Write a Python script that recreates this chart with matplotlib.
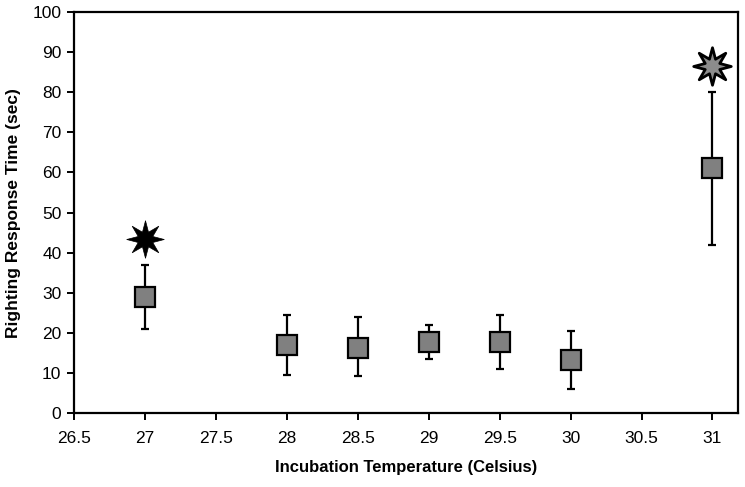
import matplotlib.pyplot as plt
import numpy as np
from matplotlib.path import Path

plt.rcParams['font.family'] = ['Liberation Sans', 'DejaVu Sans']

temps = [27, 28, 28.5, 29, 29.5, 30, 31]
means = [29.0, 17.0, 16.3, 17.6, 17.7, 13.2, 61.0]
upper = [37.0, 24.5, 24.0, 22.0, 24.5, 20.5, 80.0]
lower = [21.0, 9.5, 9.2, 13.5, 11.0, 6.0, 42.0]

star_x = [27, 31]
star_y = [43.3, 86.5]
star_fill = ['black', '#8c8c8c']

# 8-pointed star shape with thin points
ang = np.pi / 2 + np.arange(16) * np.pi / 8
rad = np.where(np.arange(16) % 2 == 0, 1.0, 0.42)
verts = np.column_stack([rad * np.cos(ang), rad * np.sin(ang)])
verts = np.vstack([verts, verts[:1]])
codes = [Path.MOVETO] + [Path.LINETO] * 15 + [Path.CLOSEPOLY]
star = Path(verts, codes)

fig = plt.figure(figsize=(7.45, 4.87), dpi=100)
ax = fig.add_axes([0.0993, 0.152, 0.8913, 0.823])

means_a = np.array(means)
yerr = [means_a - np.array(lower), np.array(upper) - means_a]
ax.errorbar(temps, means, yerr=yerr, fmt='none', ecolor='black',
            elinewidth=1.6, capsize=2.6, capthick=1.6, zorder=2)
ax.plot(temps, means, linestyle='none', marker='s', markersize=14,
        markerfacecolor='#808080', markeredgecolor='black',
        markeredgewidth=1.6, zorder=3)

for x, y, c in zip(star_x, star_y, star_fill):
    ax.plot([x], [y], linestyle='none', marker=star, markersize=27,
            markerfacecolor=c, markeredgecolor='black',
            markeredgewidth=2.0 if c != 'black' else 0.5, zorder=3)

ax.set_xlim(26.5, 31.18)
ax.set_ylim(0, 100)
ax.set_xticks(np.arange(26.5, 31.01, 0.5))
ax.set_xticklabels(['26.5', '27', '27.5', '28', '28.5', '29', '29.5',
                    '30', '30.5', '31'])
ax.set_yticks(np.arange(0, 101, 10))

for s in ax.spines.values():
    s.set_linewidth(1.6)
ax.tick_params(axis='both', direction='out', length=5, width=1.4,
               labelsize=12.5, top=False, right=False)
ax.tick_params(axis='x', pad=8)
ax.tick_params(axis='y', pad=4)

ax.set_xlabel('Incubation Temperature (Celsius)', fontsize=12,
              fontweight='bold', labelpad=10)
ax.set_ylabel('Righting Response Time (sec)', fontsize=12.5,
              fontweight='bold', labelpad=8)

fig.savefig('out.png', dpi=100)
plt.close(fig)
